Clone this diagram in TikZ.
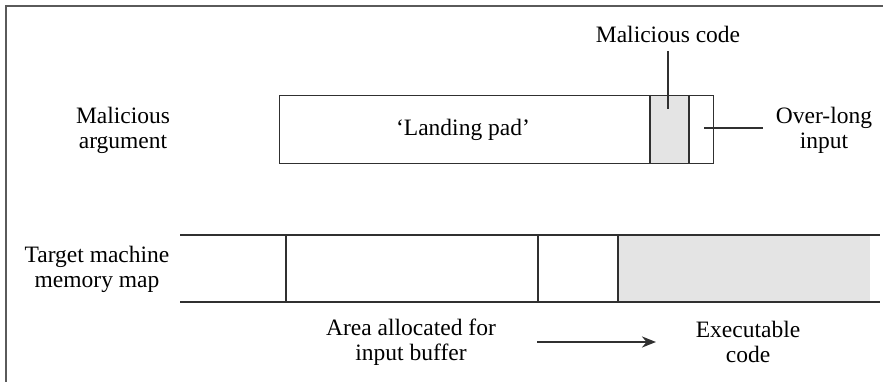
\documentclass[tikz,border=0pt]{standalone}
\usepackage{fontspec}
\setmainfont{Liberation Serif}
\usetikzlibrary{arrows.meta}
\definecolor{ln}{HTML}{303030}
\definecolor{greyfill}{HTML}{E4E4E4}
\definecolor{framecol}{HTML}{5A5A5A}
\tikzset{
  lbl/.style={align=center,inner sep=0pt,font=\fontsize{23.5}{25}\selectfont},
  bar/.style={draw=ln,line width=1.2pt},
  lead/.style={draw=ln,line width=1.1pt},
  blk/.style={draw=ln,line width=1.2pt,inner sep=0pt,minimum height=68pt}
}
\begin{document}
\begin{tikzpicture}[x=1pt,y=-1pt]
\useasboundingbox (0,0) rectangle (883,382);
% frame
\draw[framecol,line width=1.6pt] (6,382) -- (6,6) -- (883,6);
% malicious argument
\node[lbl] (ma) at (123,130) {Malicious\\argument};
\fill[greyfill] (650,95) rectangle (689,163);
\node[blk,anchor=north west,minimum width=434pt] (arg) at (279,95) {};
\node[lbl] (lp) at (463,130) {‘Landing pad’};
\draw[bar] (650,95) coordinate (g1) -- (650,163);
\draw[bar] (689,95) coordinate (g2) -- (689,163);
\node[lbl] (mc) at (668,34) {Malicious code};
\coordinate (mcend) at (668,109);
\draw[lead] (668,51) -- (mcend);
\node[lbl] (ol) at (824,130) {Over-long\\input};
\coordinate (olend) at (704,128);
\draw[lead] (olend) -- (763,128);
% memory map
\node[lbl] (tm) at (97,269) {Target machine\\memory map};
\fill[greyfill] (618,235) rectangle (870,302);
\draw[bar] (180,235) coordinate (m0) -- (880,235);
\draw[bar] (180,302) -- (880,302);
\draw[bar] (286,235) -- (286,302);
\draw[bar] (538,235) -- (538,302);
\draw[bar] (618,235) -- (618,302);
% bottom labels
\node[lbl] (aa) at (411,342) {Area allocated for\\input buffer};
\node[lbl] (ex) at (748,342) {Executable\\code};
\coordinate (a1) at (537,342);
\coordinate (a2) at (656,342);
\draw[draw=ln,line width=2.4pt,-{Stealth[length=14pt,width=11pt]}] (a1) -- (a2);
\end{tikzpicture}
\end{document}
